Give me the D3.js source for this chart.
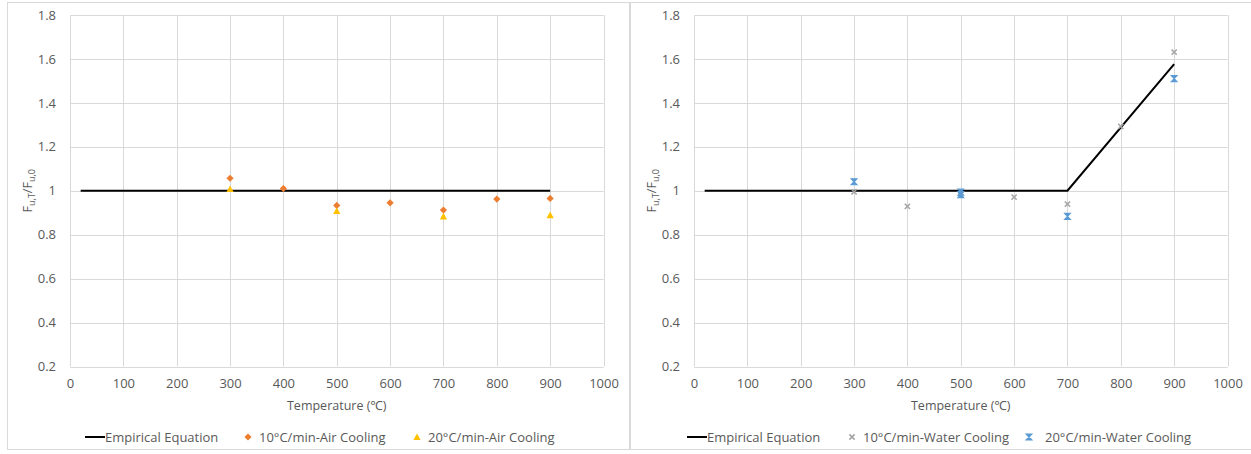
<!DOCTYPE html>
<html><head><meta charset="utf-8">
<script src="https://cdn.jsdelivr.net/npm/d3@7"></script>
<style>
html,body{margin:0;padding:0;background:#fff;}
svg text{font-family:"Open Sans","Noto Sans",sans-serif;fill:#595959;}
</style></head>
<body><svg id="c" width="1251" height="454"></svg>
<script>
// ---- data ----
const xTicks = [0,100,200,300,400,500,600,700,800,900,1000];
const yTicks = [0.2,0.4,0.6,0.8,1,1.2,1.4,1.6,1.8];
const yTickLabels = ["0.2","0.4","0.6","0.8","1","1.2","1.4","1.6","1.8"];

const airEqT = [20, 900];
const airEqV = [1, 1];
const air10T = [300,400,500,600,700,800,900];
const air10V = [1.057,1.010,0.933,0.945,0.912,0.962,0.965];
const air20T = [300,500,700,900];
const air20V = [1.008,0.908,0.883,0.889];

const waterEqT = [20, 700, 900];
const waterEqV = [1, 1, 1.576];
const water10T = [300,400,500,600,700,800,900];
const water10V = [0.995,0.929,0.982,0.971,0.939,1.293,1.631];
const water20T = [300,500,500,700,900];
const water20V = [1.041,0.994,0.982,0.883,1.510];

const legendAir = ["Empirical Equation","10°C/min-Air Cooling","20°C/min-Air Cooling"];
const legendWater = ["Empirical Equation","10°C/min-Water Cooling","20°C/min-Water Cooling"];

const C = {orange:"#ED7D31", yellow:"#FFC000", gray:"#A5A5A5", blue:"#5B9BD5", grid:"#D9D9D9"};

const svg = d3.select("#c");

// frames
svg.append("rect").attr("x",7.5).attr("y",2.5).attr("width",622).attr("height",447)
  .attr("fill","none").attr("stroke",C.grid);
svg.append("rect").attr("x",630.5).attr("y",2.5).attr("width",630).attr("height",447)
  .attr("fill","none").attr("stroke",C.grid);

function marker(g, type, color){
  if(type==="diamond"){
    g.append("path").attr("d","M0,-3.6L3.6,0L0,3.6L-3.6,0Z").attr("fill",color);
  } else if(type==="triangle"){
    g.append("path").attr("d","M0,-3.6L3.6,3L-3.6,3Z").attr("fill",color);
  } else if(type==="x"){
    g.append("path").attr("d","M-2.6,-2.6L2.6,2.6M-2.6,2.6L2.6,-2.6").attr("stroke",color).attr("stroke-width",1.6);
  } else if(type==="star"){
    g.append("path").attr("d","M-2.8,-3L2.8,-3L-2.8,3L2.8,3Z").attr("fill",color).attr("stroke",color).attr("stroke-width",1.2);
  }
}

function panel(ox, eqT, eqV, s1T, s1V, s1type, s1col, s2T, s2V, s2type, s2col, legend, legPos, legTxt){
  const x = d3.scaleLinear().domain([0,1000]).range([ox, ox+533.5]);
  const y = d3.scaleLinear().domain([0.2,1.8]).range([366.5,15]);
  const g = svg.append("g");
  // gridlines
  g.append("g").selectAll("line").data(yTicks).join("line")
    .attr("x1",x(0)).attr("x2",x(1000)).attr("y1",d=>Math.round(y(d))+0.5).attr("y2",d=>Math.round(y(d))+0.5)
    .attr("stroke",C.grid).attr("stroke-width",1);
  g.append("g").selectAll("line").data(xTicks).join("line")
    .attr("y1",y(0.2)).attr("y2",y(1.8)).attr("x1",d=>Math.round(x(d))+0.5).attr("x2",d=>Math.round(x(d))+0.5)
    .attr("stroke",C.grid).attr("stroke-width",1);
  // axes labels via d3 axes (no lines)
  const ax = g.append("g").attr("transform",`translate(0,${y(0.2)})`)
    .call(d3.axisBottom(x).tickValues(xTicks).tickSize(0).tickPadding(12).tickFormat(d3.format("d")));
  const ay = g.append("g").attr("transform",`translate(${x(0)},0)`)
    .call(d3.axisLeft(y).tickValues(yTicks).tickSize(0).tickPadding(14).tickFormat((d,i)=>yTickLabels[i]));
  [ax,ay].forEach(a=>{a.select(".domain").remove(); a.selectAll("text").attr("font-size","13px").attr("fill","#595959").style("font-family",'"Open Sans","Noto Sans",sans-serif');});
  // axis titles
  g.append("text").attr("x",(x(0)+x(1000))/2).attr("y",410).attr("text-anchor","middle")
    .attr("font-size","12.5px").text("Temperature (℃)");
  const yt = g.append("text").attr("transform",`translate(${ox-38},${(y(0.2)+y(1.8))/2}) rotate(-90)`)
    .attr("text-anchor","middle").attr("font-size","12.5px");
  yt.append("tspan").text("F");
  yt.append("tspan").attr("font-size","9px").attr("dy",3).text("u,T");
  yt.append("tspan").attr("dy",-3).text("/F");
  yt.append("tspan").attr("font-size","9px").attr("dy",3).text("u,0");
  // empirical line
  const line = d3.line().x(d=>x(d[0])).y(d=>y(d[1]));
  g.append("path").datum(eqT.map((t,i)=>[t,eqV[i]])).attr("d",line)
    .attr("fill","none").attr("stroke","#000").attr("stroke-width",2);
  // series
  s1T.forEach((t,i)=>marker(g.append("g").attr("transform",`translate(${x(t)},${y(s1V[i])})`), s1type, s1col));
  s2T.forEach((t,i)=>marker(g.append("g").attr("transform",`translate(${x(t)},${y(s2V[i])})`), s2type, s2col));
  // legend
  const ly = 437;
  const lg = svg.append("g");
  lg.append("line").attr("x1",legPos[0]).attr("x2",legPos[0]+20).attr("y1",ly).attr("y2",ly).attr("stroke","#000").attr("stroke-width",2);
  lg.append("text").attr("x",legTxt[0]).attr("y",ly+4.5).attr("font-size","13px").text(legend[0]);
  marker(lg.append("g").attr("transform",`translate(${legPos[1]},${ly})`), s1type, s1col);
  lg.append("text").attr("x",legTxt[1]).attr("y",ly+4.5).attr("font-size","13px").text(legend[1]);
  marker(lg.append("g").attr("transform",`translate(${legPos[2]},${ly})`), s2type, s2col);
  lg.append("text").attr("x",legTxt[2]).attr("y",ly+4.5).attr("font-size","13px").text(legend[2]);
}

panel(70, airEqT, airEqV, air10T, air10V, "diamond", C.orange, air20T, air20V, "triangle", C.yellow, legendAir, [85,248,417], [105,259,428]);
panel(694, waterEqT, waterEqV, water10T, water10V, "x", C.gray, water20T, water20V, "star", C.blue, legendWater, [687,852,1029], [707,863,1045]);
</script></body></html>
